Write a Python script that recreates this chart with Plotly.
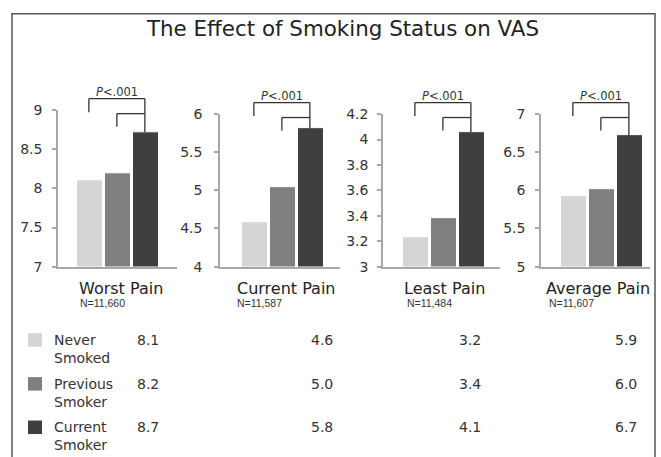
import plotly.graph_objects as go

# ---------------- data ----------------
groups = ["Never<br>Smoked", "Previous<br>Smoker", "Current<br>Smoker"]
measures = ["Worst Pain", "Current Pain", "Least Pain", "Average Pain"]
sample_sizes = ["N=11,660", "N=11,587", "N=11,484", "N=11,607"]
worst_pain = [8.10, 8.20, 8.72]
current_pain = [4.58, 5.04, 5.81]
least_pain = [3.23, 3.38, 4.06]
average_pain = [5.93, 6.02, 6.72]
series = [worst_pain, current_pain, least_pain, average_pain]
y_ranges = [[7, 9], [4, 6], [3, 4.2], [5, 7]]
y_dticks = [0.5, 0.5, 0.2, 0.5]
p_label = "<i>P</i>&lt;.001"
title = "The Effect of Smoking Status on VAS"
colors = ["#d4d5d7", "#808080", "#3f3f3f"]

# ---------------- layout helpers (pixels -> paper) ----------------
W, H = 661, 457
def px(x):
    return x / W
def py(y):
    return 1 - y / H

x_left = [58, 220, 383, 541]
x_right = [177, 340, 500, 650]
first_off = [32, 35, 33, 33]
standoff = [7, 9, 6, 7]
unit = 28.0
y_top = [106, 110, 110, 110]
y_bot = 268
label_x = [77, 235, 402, 544]
n_x = [78, 235, 405, 547]
value_x = [148, 322, 470, 626]
row_y = [344, 389.5, 434.5]

AXC = "#a8a8a8"
TXT = "#333333"
FONT = "DejaVu Sans"

fig = go.Figure()
shapes = []
annotations = []

for i, vals in enumerate(series):
    n = i + 1
    xs = "x" if n == 1 else f"x{n}"
    ys = "y" if n == 1 else f"y{n}"
    fig.add_trace(go.Bar(
        x=[0, 1, 2], y=vals, marker_color=colors,
        marker_line=dict(color="white", width=1), width=0.96,
        xaxis=xs, yaxis=ys, showlegend=False, hoverinfo="skip"))
    lo, hi = y_ranges[i]
    dom_x = [px(x_left[i]), px(x_right[i])]
    dom_y = [py(y_bot), py(y_top[i])]
    xr = [-first_off[i] / unit, (x_right[i] - x_left[i] - first_off[i]) / unit]
    fig.layout[f"xaxis{'' if n == 1 else n}"] = dict(
        domain=dom_x, range=xr, showticklabels=False, ticks="",
        showgrid=False, zeroline=False, showline=True, linecolor=AXC,
        linewidth=1.5, anchor=ys, fixedrange=True)
    fig.layout[f"yaxis{'' if n == 1 else n}"] = dict(
        domain=dom_y, range=[lo, hi + 1e-6], tickmode="linear", tick0=lo,
        dtick=y_dticks[i], ticks="outside", ticklen=4, tickcolor=AXC,
        tickwidth=1.5, showline=True, linecolor=AXC, linewidth=1.5,
        showgrid=False, zeroline=False, anchor=xs, fixedrange=True,
        ticklabelstandoff=standoff[i],
        tickfont=dict(family=FONT, size=14, color=TXT))

    # significance brackets
    d = 0.04
    top_bar = dom_y[0] + (vals[2] - lo) / (hi - lo) * (dom_y[1] - dom_y[0])
    bl = dict(color="#333333", width=1.3)
    yb = y_top[i] - 12
    for (x0, y0, x1, y1) in [
        (0 - d, py(yb), 2 - d, py(yb)),
        (0 - d, py(yb), 0 - d, py(yb + 14)),
        (1 - d, py(yb + 15.5), 2 - d, py(yb + 15.5)),
        (1 - d, py(yb + 15.5), 1 - d, py(yb + 29)),
        (2 - d, py(yb), 2 - d, top_bar),
    ]:
        shapes.append(dict(type="line", xref=xs, yref="paper",
                           x0=x0, y0=y0, x1=x1, y1=y1, line=bl))
    annotations.append(dict(text=p_label, xref=xs, yref="paper", x=1 - d,
                            y=py(yb - 7), showarrow=False, xanchor="center",
                            yanchor="middle",
                            font=dict(family=FONT, size=11.5, color=TXT)))
    # panel labels
    annotations.append(dict(text=measures[i], xref="paper", yref="paper",
                            x=px(label_x[i]), y=py(290.5), showarrow=False,
                            xanchor="left", yanchor="middle",
                            font=dict(family=FONT, size=16, color="#222222")))
    annotations.append(dict(text=sample_sizes[i], xref="paper", yref="paper",
                            x=px(n_x[i]), y=py(306), showarrow=False,
                            xanchor="left", yanchor="middle",
                            font=dict(family="Liberation Sans", size=10.5,
                                      color=TXT)))
    # table values
    for r in range(3):
        annotations.append(dict(text=f"{vals[r]:.1f}", xref="paper",
                                yref="paper", x=px(value_x[i]),
                                y=py(row_y[r]), showarrow=False,
                                xanchor="center", yanchor="middle",
                                font=dict(family=FONT, size=14, color=TXT)))

# legend squares + labels
for r in range(3):
    shapes.append(dict(type="rect", xref="paper", yref="paper",
                       x0=px(28), x1=px(42), y0=py(row_y[r] - 7),
                       y1=py(row_y[r] + 7), fillcolor=colors[r],
                       line=dict(width=0)))
    annotations.append(dict(text=groups[r], xref="paper", yref="paper",
                            x=px(52), y=py(row_y[r] + 9), showarrow=False,
                            xanchor="left", yanchor="middle", align="left",
                            font=dict(family=FONT, size=14, color=TXT)))

# title
annotations.append(dict(text=title, xref="paper", yref="paper", x=px(342.5),
                        y=py(21), showarrow=False, xanchor="center",
                        yanchor="middle",
                        font=dict(family=FONT, size=21.4, color="#222222")))

# outer frame
shapes.append(dict(type="rect", xref="paper", yref="paper", x0=px(12),
                   x1=px(655), y0=py(475), y1=py(6),
                   line=dict(color="#555555", width=1.5), layer="below"))

fig.update_layout(width=W, height=H, autosize=False,
                  margin=dict(l=0, r=0, t=0, b=0),
                  paper_bgcolor="white", plot_bgcolor="rgba(0,0,0,0)",
                  shapes=shapes, annotations=annotations, bargap=0)

fig.write_html(
    "out.html", config={"displayModeBar": False},
    post_script="document.body.style.margin='0';"
                "document.body.style.overflow='hidden';")
